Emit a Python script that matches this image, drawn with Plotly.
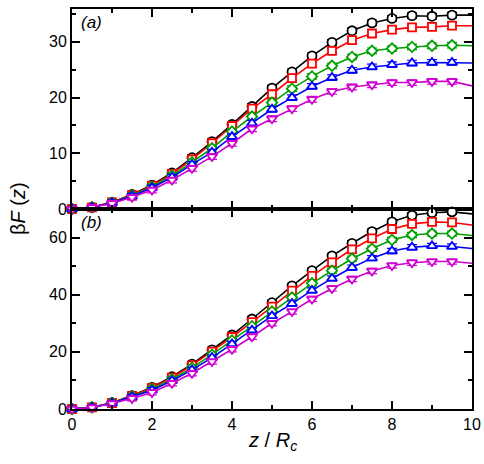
import plotly.graph_objects as go
from plotly.subplots import make_subplots

z = [0, 0.5, 1, 1.5, 2, 2.5, 3, 3.5, 4, 4.5, 5, 5.5, 6, 6.5, 7, 7.5, 8, 8.5, 9, 9.5, 10]

# panel (a)
a_black = [0, 0.3, 1.2, 2.6, 4.3, 6.5, 9.2, 12.1, 15.2, 18.4, 21.7, 24.6, 27.5, 29.9, 32.0, 33.4, 34.2, 34.7, 34.6, 34.8, 34.8]
a_red = [0, 0.3, 1.2, 2.5, 4.2, 6.3, 8.9, 11.8, 14.9, 18.0, 20.6, 23.5, 26.1, 28.4, 30.3, 31.5, 32.2, 32.6, 32.7, 32.9, 32.9]
a_green = [0, 0.3, 1.1, 2.4, 4.0, 6.0, 8.4, 10.9, 13.9, 16.6, 19.1, 21.6, 23.8, 25.7, 27.3, 28.4, 28.8, 29.1, 29.3, 29.4, 29.3]
a_blue = [0, 0.3, 1.1, 2.3, 3.8, 5.7, 8.0, 10.2, 13.0, 15.4, 17.9, 20.0, 22.0, 23.6, 24.9, 25.5, 25.9, 26.2, 26.3, 26.3, 26.2]
a_magenta = [0, 0.3, 1.0, 2.1, 3.4, 5.2, 7.3, 9.4, 11.8, 14.4, 16.2, 18.0, 19.7, 21.1, 21.9, 22.3, 22.7, 22.7, 22.9, 22.9, 22.1]

# panel (b)
b_black = [0, 0.6, 2.2, 4.7, 7.6, 11.3, 15.7, 20.7, 25.9, 31.5, 37.2, 43.1, 48.4, 53.6, 58.0, 62.1, 65.5, 67.8, 68.7, 69.0, 68.3]
b_red = [0, 0.6, 2.1, 4.6, 7.4, 11.0, 15.3, 20.1, 25.2, 30.4, 35.8, 41.4, 46.6, 51.3, 55.9, 59.7, 63.0, 64.8, 65.5, 65.3, 64.4]
b_green = [0, 0.6, 2.1, 4.4, 7.0, 10.4, 14.4, 19.0, 24.0, 29.0, 34.1, 39.0, 44.0, 48.4, 52.6, 56.1, 59.2, 60.9, 61.4, 61.4, 60.7]
b_blue = [0, 0.5, 2.0, 4.2, 6.6, 9.9, 13.7, 18.0, 22.8, 27.6, 32.6, 36.9, 41.5, 45.7, 49.5, 52.8, 55.3, 56.6, 57.1, 56.9, 56.2]
b_magenta = [0, 0.5, 1.9, 3.7, 5.8, 9.0, 12.5, 16.6, 20.9, 25.3, 30.0, 34.1, 38.5, 42.2, 45.5, 48.3, 50.2, 51.2, 51.6, 51.6, 51.0]

n_markers = 20  # markers at z = 0 ... 9.5; line continues to z = 10
err_a = 0.5
err_b = 0.9

colors = ["#000000", "#ff0000", "#00a000", "#0000ff", "#d000d0"]
symbols = ["circle", "square", "diamond", "triangle-up", "triangle-down"]
sizes = [9, 8, 8, 9, 9]

fig = make_subplots(rows=2, cols=1, shared_xaxes=True, vertical_spacing=0)

panels = [(1, [a_black, a_red, a_green, a_blue, a_magenta], err_a),
          (2, [b_black, b_red, b_green, b_blue, b_magenta], err_b)]

for row, series, err in panels:
    for ys, c, s, sz in zip(series, colors, symbols, sizes):
        fig.add_trace(go.Scatter(x=z, y=ys, mode="lines",
                                 line=dict(color=c, width=1.6),
                                 showlegend=False, cliponaxis=False), row=row, col=1)
        fig.add_trace(go.Scatter(x=z[:n_markers], y=ys[:n_markers], mode="markers",
                                 marker=dict(symbol=s, color="white", size=sz,
                                             line=dict(color=c, width=1.8)),
                                 error_y=dict(type="constant", value=err, color=c,
                                              thickness=1.2, width=5),
                                 showlegend=False, cliponaxis=False), row=row, col=1)

axis_common = dict(showline=True, linecolor="black", linewidth=2, mirror="allticks",
                   ticks="inside", ticklen=8, tickwidth=2, tickcolor="black",
                   showgrid=False, zeroline=False, automargin=False,
                   tickfont=dict(family="Liberation Sans, Arial, sans-serif", size=16, color="black"))

fig.update_xaxes(range=[0, 10], dtick=2, tick0=0,
                 minor=dict(ticks="inside", ticklen=4, tickwidth=2, dtick=1, tickcolor="black"),
                 **axis_common)
fig.update_xaxes(showticklabels=False, row=1, col=1)
fig.update_yaxes(range=[0, 35.9], dtick=10, tick0=0,
                 minor=dict(ticks="inside", ticklen=4, tickwidth=2, dtick=5, tickcolor="black"),
                 row=1, col=1, **axis_common)
fig.update_yaxes(range=[0, 70], dtick=20, tick0=0,
                 minor=dict(ticks="inside", ticklen=4, tickwidth=2, dtick=10, tickcolor="black"),
                 row=2, col=1, **axis_common)

font_f = "Liberation Sans, Arial, sans-serif"
fig.add_annotation(text="<i>(a)</i>", xref="paper", yref="paper", x=0.018, y=0.995,
                   xanchor="left", yanchor="top", showarrow=False,
                   font=dict(family=font_f, size=17, color="black"))
fig.add_annotation(text="<i>(b)</i>", xref="paper", yref="paper", x=0.018, y=0.495,
                   xanchor="left", yanchor="top", showarrow=False,
                   font=dict(family=font_f, size=17, color="black"))
fig.add_annotation(text="β<i>F</i> (<i>z</i>)", xref="paper", yref="paper", x=-0.135, y=0.5,
                   xanchor="center", yanchor="middle", textangle=-90, showarrow=False,
                   font=dict(family=font_f, size=20, color="black"))
fig.add_annotation(text="<i>z</i> / <i>R<sub>c</sub></i>", xref="paper", yref="paper", x=0.5, y=-0.08,
                   xanchor="center", yanchor="middle", showarrow=False,
                   font=dict(family=font_f, size=20, color="black"))

fig.update_layout(width=484, height=464, margin=dict(l=72, r=12, t=9, b=55),
                  plot_bgcolor="white", paper_bgcolor="white")

fig.write_html("out.html")
